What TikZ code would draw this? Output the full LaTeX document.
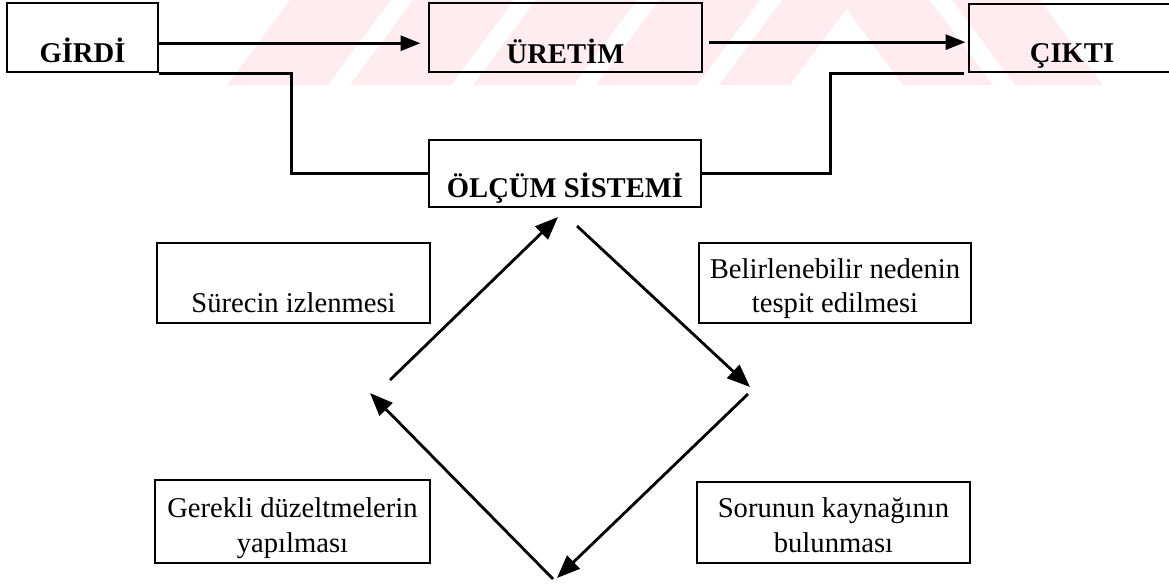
\documentclass[tikz,border=0pt]{standalone}
\usepackage{fontspec}
\setmainfont{Liberation Serif}
\usetikzlibrary{arrows.meta,calc}
\definecolor{wm}{RGB}{254,236,240}
\begin{document}
\begin{tikzpicture}[x=0.01cm,y=-0.01cm,
  box/.style={draw,line width=0.8pt,inner sep=0pt,anchor=base,align=center,
    font=\fontsize{8.14}{9.7}\selectfont},
  bigbox/.style={box,font=\fontsize{8.14}{9.7}\selectfont\bfseries},
  link/.style={line width=0.8pt},
  arr/.style={link,-{Triangle[length=0.2cm,width=0.15cm]}},
  darr/.style={link,-{Triangle[length=0.23cm,width=0.18cm]}}]
\useasboundingbox (0,0) rectangle (1169,585);
% watermark
\begin{scope}
\clip (0,0) rectangle (1169,85);
\foreach \a/\b in {227/328,350/451,473/574,596/697,719/790}
  \fill[wm] (\a,85) -- (\b,85) -- (\b+63,0) -- (\a+63,0) -- cycle;
\foreach \a/\b in {840/930,952/1040}
  \fill[wm] (\a,0) -- (\b,0) -- (\b+63,85) -- (\a+63,85) -- cycle;
\end{scope}
% top row
\node[bigbox,minimum width=1.51cm,text height=0.60cm,text depth=0.09cm] (girdi) at (82.5,63) {GİRDİ};
\node[bigbox,minimum width=2.73cm,text height=0.61cm,text depth=0.08cm] (uretim) at (565.5,64) {ÜRETİM};
\node[bigbox,minimum width=2.06cm,text height=0.59cm,text depth=0.09cm] (cikti) at (1072,63) {ÇIKTI};
\node[bigbox,minimum width=2.72cm,text height=0.58cm,text depth=0.09cm] (olcum) at (565,198) {ÖLÇÜM SİSTEMİ};
% cycle boxes
\node[box,minimum width=2.73cm,text height=0.70cm,text depth=0.10cm] (izle) at (293.5,313) {Sürecin izlenmesi};
\node[box,minimum width=2.72cm,text height=0.70cm,text depth=0.10cm] (neden) at (835,313) {Belirlenebilir nedenin\\tespit edilmesi};
\node[box,minimum width=2.75cm,text height=0.72cm,text depth=0.11cm] (duzelt) at (292.5,552) {Gerekli düzeltmelerin\\yapılması};
\node[box,minimum width=2.73cm,text height=0.70cm,text depth=0.11cm] (kaynak) at (833.5,552) {Sorunun kaynağının\\bulunması};
% connectors
\draw[arr,shorten >=0.07cm] ($(girdi.south east)!0.42!(girdi.north east)$) coordinate (g1) -- (g1 -| uretim.west);
\draw[arr,shorten <=0.06cm,shorten >=0.02cm] ($(uretim.south east)!0.435!(uretim.north east)$) coordinate (u1) -- (u1 -| cikti.west);
\draw[link] (girdi.south east) -| ($(olcum.west)+(-136,0)$) -- (olcum.west);
\draw[link] (olcum.east) -| ($(cikti.south west)+(-137,0)$) -- ($(cikti.south west)+(-4,0)$);
% diamond
\coordinate (dL1) at (390,380); \coordinate (dT1) at (558,217);
\coordinate (dT2) at (577,226); \coordinate (dR1) at (750,387);
\coordinate (dR2) at (748,394); \coordinate (dB1) at (557,578);
\coordinate (dB2) at (553,579); \coordinate (dL2) at (370,393);
\draw[darr] (dL1) -- (dT1);
\draw[darr] (dT2) -- (dR1);
\draw[darr] (dR2) -- (dB1);
\draw[darr] (dB2) -- (dL2);
\end{tikzpicture}
\end{document}
